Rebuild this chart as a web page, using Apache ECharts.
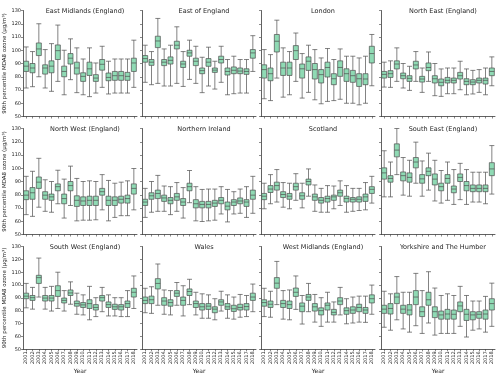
<!DOCTYPE html>
<html>
<head>
<meta charset="utf-8">
<script src="https://cdn.jsdelivr.net/npm/echarts@6/dist/echarts.min.js"></script>
<style>
  html, body { margin: 0; padding: 0; background: #fff; }
  #main { width: 500px; height: 375px; }
</style>
</head>
<body>
<div id="main"></div>
<script>
// years on the x axis
var years = ['2001','2002','2003','2004','2005','2006','2007','2008','2009',
  '2010','2011','2012','2013','2014','2015','2016','2017','2018'];
var regions = ['East Midlands (England)', 'East of England', 'London', 'North East (England)',
  'North West (England)', 'Northern Ireland', 'Scotland', 'South East (England)',
  'South West (England)', 'Wales', 'West Midlands (England)', 'Yorkshire and The Humber'];
var yTicks = [50, 60, 70, 80, 90, 100, 110, 120, 130];

// [low whisker, q1, median, q3, high whisker] per year
var eastMidlands = [
  [71.5,84,88,91.7,102.5],[72.5,83,86.6,90,99],[80,96,101,105.5,120],[71.5,82,86.6,89,100.5],
  [69,83,88,92,105],[76.5,93,99.7,104,119],[66.4,80,84,88,100],[77.8,89.6,94,97.5,108.6],
  [68,82,86.6,91,101.8],[66.4,76.5,80.3,83,93.4],[65,81,86,91,101.8],[67.7,76.5,79,81.6,90.4],
  [72,85,89.4,93,103],[67,77,79.5,82.8,91.7],[67.7,77.3,80.8,84,93.4],[67.7,77.3,80.8,84,93.4],
  [67.7,77.3,80.3,83.3,93.4],[72,84,90.4,94,107.6]];
var eastOfEngland = [
  [75.8,91,93.7,96,103.8],[74,88.6,91,93,99],[75,102,107,110.6,124],[73,88.4,91,93,101],
  [73,89.6,92.4,95,103.8],[75,101,103.8,106.8,117.7],[72.7,87,89.6,91.7,99],[78,95.5,98,100,107.6],
  [75,88.4,91.7,94,103],[68,82.3,84.6,86.6,94.7],[73,87.9,91,93.7,102.3],[70.7,83.3,85,86.6,91.7],
  [75.8,90.4,93,95.5,103],[66.4,81.3,84,86.6,93],[67.2,82.3,84.9,87.4,95.5],[67.7,82.3,84.3,86.6,93],
  [67.7,81.8,84,86,93],[84,94,98,100.5,111]];
var london = [
  [63.4,79,85.4,89,100.5],[62,77,82.3,86.6,96.7],[79,98.7,106.8,111.9,122.7],[64.6,81,86.6,91,101.8],
  [66.4,81,86.6,91,99],[76.5,93,99.7,103.5,113],[63.9,79,86,89.6,97.5],[68.2,84.8,91.7,95,103.8],
  [62.6,78.3,85.4,90,100.5],[59.6,75.3,81.6,85.4,94.2],[61.4,79.8,87,91,101.3],[62,74,78.5,82.3,93],
  [63,80.3,87,92,101],[60,76.5,82.3,86,95.5],[60,75.8,80.8,84.8,95.5],[58.8,72.7,78.5,82.3,94.2],
  [60,74,78.3,82.3,95.5],[73.2,90.4,97.5,103,111.9]];
var northEast = [
  [72.2,79,81.8,84,91],[72,79.5,82.3,84.6,92],[76.5,85.9,89.6,92,101.8],[71.5,78.5,80.8,82.8,90],
  [69.7,76.5,78.8,80.8,87.9],[76.5,85.9,88.9,91.7,99],[68.2,76,78.3,80.3,86.6],[76.5,84.6,87,90.4,98.7],
  [65.7,75.3,78.5,80.8,90],[65.2,73.2,75.8,78.3,85.9],[67.2,75.3,77.3,79.5,86.6],[67.2,75.3,77.3,79,86.6],
  [70.2,78.3,80.8,83.3,91.7],[66.4,74,76.5,78.5,85.9],[67,74,76,77.8,84.8],[68.2,75.3,77.3,79,85.4],
  [66.4,74.5,77.3,79,86.6],[73.2,80.8,84,86.6,95]];
var northWest = [
  [65,76.3,79.7,83,93.9],[63.7,76.6,81.5,85.4,97.7],[70.6,84.8,89.5,93.4,107.5],[67.5,76.6,79.7,82.3,91.3],
  [66.8,75.8,78.4,80.5,90],[73.2,83,86.1,88.2,98.5],[62.4,73.2,77.1,80.5,91.8],[71.9,83,86.9,90,101.6],
  [60.3,71.2,75.8,79.2,92.3],[60.8,71.9,75.3,78.4,90],[60.8,71.9,75.8,78.9,90.5],[61.1,71.9,75.8,78.9,90],
  [68.6,79.7,82.3,84.8,95.2],[60.3,71.9,75.8,78.9,90.8],[62.9,71.9,75.8,78.4,88.7],[64.2,73.7,76.6,78.9,89.5],
  [64.2,73.7,77.1,79.7,90.5],[68.6,80.5,84.8,88.2,99.8]];
var northernIreland = [
  [62.9,71.9,74.5,76.6,84.8],[66.8,76.6,79.2,81.5,90],[67.5,77.1,81,83.5,94.6],[67.5,75,77.6,79.7,86.6],
  [65,73.2,75.8,77.9,86.1],[67.5,75.8,78.4,81,89.2],[62.4,71.9,74.5,77.1,85.4],[74,83,86.1,88.7,98.3],
  [60.3,70.1,73.2,76.3,86.1],[59.8,70.1,72.7,75,84],[60.3,70.1,72.7,75,84.3],[60.8,71.2,73.7,75.8,84.3],
  [65.5,73.2,75.8,77.9,86.1],[59.5,68.6,71.4,74.5,84],[65.5,71.9,74.5,76.3,82.3],[66,73.2,75.3,77.6,84.3],
  [62.9,71.2,74.5,76.3,86.1],[66,76.6,79.7,83.5,93.9]];
var scotland = [
  [69.4,76.3,78.9,81,88.7],[73.2,81.7,84.3,86.9,95.2],[74.5,83.5,86.9,89.5,99],[70.6,77.9,80.2,82.3,89.2],
  [69.4,76.6,78.9,81,88.7],[75.8,83.5,86.1,88.7,95.9],[70.1,76.6,79.2,81.5,88.7],[78.9,87.4,90,91.8,99.5],
  [67.5,75.8,78.4,80.5,87.4],[66.8,73.7,75.8,77.9,84.8],[66.8,74.5,77.1,78.9,86.9],[69.4,75.8,78.4,79.7,86.6],
  [71.9,78.9,81.5,83.5,90.5],[66.8,74.5,77.1,78.9,86.9],[67.5,74.5,76.6,77.9,84.8],[68.1,74.5,76.6,78.4,84.8],
  [68.6,75,78.4,80.5,89.2],[73.7,81,84.1,86.1,93.9]];
var southEast = [
  [78.4,91.8,96.5,100.3,113.2],[78.4,89.5,92.3,94.4,104.7],[95.2,108.6,113.7,118.4,130],[79.7,90.5,94.4,97.2,108.1],
  [78.9,89.5,93.1,96.5,106],[88.7,100.3,104.7,108.1,119.7],[78.9,88.7,92,95.2,105.5],[83.5,94.4,97.7,100.3,111.4],
  [75.3,87.4,91.8,95.7,106],[73.7,83,86.1,88.7,98.3],[75.8,88.7,92.3,95.2,104.7],[72.7,81.5,84.3,86.6,99],
  [76.3,90,93.1,95.7,103.7],[72.7,83,86.9,90,99],[74.5,82.3,84.8,87.4,97],[74.5,82.3,84.8,87.4,97],
  [73.2,82.3,84.8,87.4,97],[80.5,94.4,99.5,104.2,117.1]];
var southWest = [
  [82.3,89.4,91.4,93.7,101.3],[81.3,88.1,90.2,91.9,98.2],[90.7,101.3,105.8,107.6,121],[81.3,87.6,89.9,91.9,98.2],
  [79.8,87.6,89.9,91.9,99],[81.8,91.2,95.7,99.5,110],[79.8,86.1,88.1,89.9,95.7],[85.1,91.9,93.9,96.2,102.5],
  [77.3,83.6,85.6,87.6,93.7],[76.8,82.6,84.6,86.4,92.4],[73,81.8,85.6,88.6,99],[75.5,80.6,82.6,84.8,90.2],
  [79.3,87.6,90.2,91.9,98.2],[76,82.6,84.8,86.9,92.4],[76,81.1,83.1,85.1,90.2],[75.5,80.6,83.1,84.8,90.2],
  [75.5,82.6,85.6,87.6,95.7],[81.8,90.7,94.4,97.5,107.1]];
var wales = [
  [78.5,85.6,88.1,90.7,97.5],[78,85.6,88.6,91.4,98.7],[84.3,97,101.3,105,116.4],[77.3,84.3,87.6,90.2,96.2],
  [76.8,83.6,86.4,88.6,95.7],[84.3,91.2,93.7,95.7,102],[76,84.3,88.1,90.7,99.5],[84.8,91.9,95,97,104.5],
  [76.8,82.6,85.6,87.6,94.4],[74.2,80.6,83.1,85.6,93.2],[74.2,81.1,83.6,85.6,92.4],[73,78.5,81.3,83.1,89.4],
  [79.8,84.3,86.9,88.6,95.2],[74.2,81.1,83.1,85.6,92.4],[73.5,79.5,81.6,84.3,90.7],[75,80.6,82.6,85.1,92.7],
  [75.5,80.6,83.3,85.6,91.9],[79.3,88.1,90.7,93.7,100.8]];
var westMidlands = [
  [75.5,83.6,86.4,88.6,97.5],[75,82.6,85.1,87.6,95.2],[84.8,97.5,101.5,105.8,118.4],[73.5,82.6,85.6,88.1,95.7],
  [73,81.8,84.8,87.6,96.2],[81.1,91.2,94.4,97.7,107.1],[69.7,79.3,83.6,86.1,91.9],[79.3,88.1,90.7,92.7,101.3],
  [71.2,79.8,83.1,85.6,92.7],[67.9,76.8,80.1,82.3,90.2],[71.2,80.6,84.3,86.1,94.4],[71.2,76.8,78.8,81.1,86.9],
  [76.8,84.8,87.6,90.2,98.2],[69.9,77.3,80.1,82.3,89.4],[70.5,78,80.6,83.1,90.7],[71.2,79.3,82.6,85.1,91.4],
  [71,78,80.6,82.6,91.4],[77.3,86.1,89.4,92.4,100]];
var yorkshire = [
  [67.2,78,81.3,84.3,95.2],[64.9,77.5,81.8,85.6,93.2],[73,85.6,90.7,93.7,106.6],[65.9,78,81.3,84.3,94.4],
  [63.4,76.8,80.6,84.8,94.4],[68.4,84.8,90.7,95.7,109.1],[62.4,75.5,79.3,83.1,95.7],[70.5,84.3,88.6,94.4,110.4],
  [61.1,74.7,79.3,83.1,97.7],[62.4,73.5,76.8,79.8,91.9],[62.4,73.5,77.5,81.1,93.2],[62.4,73.5,77.3,80.6,91.9],
  [67.9,79.3,83.8,86.9,99],[59.6,72.5,77.3,81.1,91.9],[64.9,73,76.8,79.3,87.6],[65.9,74.2,77.3,79.3,87.6],
  [63.4,73.5,77.5,80.6,91.2],[67.9,80.6,85.6,89.4,101.5]];

var panelData = [eastMidlands, eastOfEngland, london, northEast, northWest, northernIreland,
  scotland, southEast, southWest, wales, westMidlands, yorkshire];

var chart = echarts.init(document.getElementById('main'), null, {renderer: 'canvas'});

var colLeft = [23, 142, 261, 381];
var rowTop = [10.5, 128.5, 246.5];
var panelW = 114, panelH = 106;
var font = 'DejaVu Sans';
var lineColor = '#3a3a3a';

var grids = [], xAxes = [], yAxes = [], series = [], titles = [];
for (var i = 0; i < panelData.length; i++) {
  var row = Math.floor(i / 4), col = i % 4;
  grids.push({left: colLeft[col], top: rowTop[row], width: panelW, height: panelH});
  titles.push({
    text: regions[i],
    left: colLeft[col] + panelW / 2,
    top: rowTop[row] - 8,
    textAlign: 'center',
    textStyle: {fontFamily: font, fontSize: 6.5, fontWeight: 'normal', color: '#262626'}
  });
  xAxes.push({
    type: 'category', gridIndex: i, data: years, boundaryGap: true,
    name: row === 2 ? 'Year' : '', nameLocation: 'middle', nameGap: 16,
    nameTextStyle: {fontFamily: font, fontSize: 6, color: '#262626'},
    axisLine: {show: true, lineStyle: {color: lineColor, width: 0.8}},
    axisTick: {show: true, alignWithLabel: true, length: 2, lineStyle: {color: lineColor, width: 0.6}},
    axisLabel: {show: row === 2, rotate: 90, interval: 0, fontFamily: font, fontSize: 5, margin: 2, color: '#262626'},
    splitLine: {show: false}
  });
  yAxes.push({
    type: 'value', gridIndex: i, min: 50, max: 130, interval: 10,
    name: col === 0 ? '90th percentile MDA8 ozone (µg/m³)' : '',
    nameLocation: 'middle', nameRotate: 90, nameGap: 11,
    nameTextStyle: {fontFamily: font, fontSize: 5.5, color: '#262626'},
    axisLine: {show: true, lineStyle: {color: lineColor, width: 0.8}},
    axisTick: {show: true, length: 2, lineStyle: {color: lineColor, width: 0.6}},
    axisLabel: {show: col === 0, fontFamily: font, fontSize: 5, margin: 2, color: '#262626',
      formatter: function (v) { return yTicks.indexOf(v) >= 0 ? String(v) : ''; }},
    splitLine: {show: false}
  });
  series.push({
    type: 'boxplot', xAxisIndex: i, yAxisIndex: i,
    data: panelData[i],
    boxWidth: [5, 5],
    itemStyle: {color: '#8fdab4', borderColor: '#4d4d4d', borderWidth: 0.7},
    silent: true
  });
}

chart.setOption({
  animation: false,
  backgroundColor: '#fff',
  title: titles,
  grid: grids,
  xAxis: xAxes,
  yAxis: yAxes,
  series: series
});
</script>
</body>
</html>
